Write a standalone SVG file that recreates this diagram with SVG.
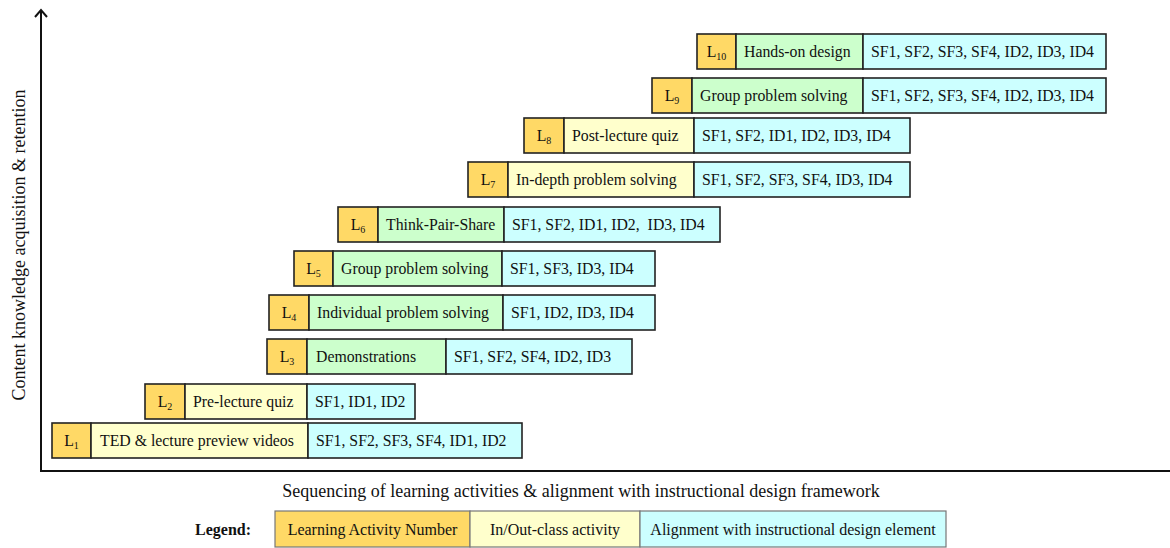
<svg xmlns="http://www.w3.org/2000/svg" width="1170" height="548" viewBox="0 0 1170 548">
<style>
text{font-family:"Liberation Serif","Times New Roman",serif;font-size:15.8px;fill:#111}
.b{stroke:#222;stroke-width:1.6}
.n{fill:#FFD966}
.g{fill:#CCFFCC}
.y{fill:#FFFFCC}
.c{fill:#CCFFFF}
.lb{stroke:#777;stroke-width:1.2}
.sub{font-size:10px}
.lg{font-size:16px}
.axl{font-size:18px}
.ax{stroke:#111;stroke-width:2;fill:none}
</style>
<rect width="1170" height="548" fill="#fff"/>
<g id="axes">
<line class="ax" x1="41" y1="10" x2="41" y2="471"/>
<line class="ax" x1="40" y1="471" x2="1170" y2="471"/>
<polyline class="ax" points="35,17 41,10 47,17"/>
</g>
<text class="axl" x="25" y="245" text-anchor="middle" transform="rotate(-90 25 245)">Content knowledge acquisition &amp; retention</text>
<text class="axl" x="581" y="497" text-anchor="middle">Sequencing of learning activities &amp; alignment with instructional design framework</text>

<g id="L1">
<rect class="b n" x="52" y="423" width="39" height="35"/>
<rect class="b y" x="91" y="423" width="217" height="35"/>
<rect class="b c" x="308" y="423" width="214" height="35"/>
<text x="71.5" y="446" text-anchor="middle">L<tspan class="sub" dy="3">1</tspan></text>
<text x="100" y="446">TED &amp; lecture preview videos</text>
<text x="316" y="446">SF1, SF2, SF3, SF4, ID1, ID2</text>
</g>
<g id="L2">
<rect class="b n" x="145" y="384" width="40" height="35"/>
<rect class="b y" x="185" y="384" width="122" height="35"/>
<rect class="b c" x="307" y="384" width="108" height="35"/>
<text x="165" y="407" text-anchor="middle">L<tspan class="sub" dy="3">2</tspan></text>
<text x="193" y="407">Pre-lecture quiz</text>
<text x="315" y="407">SF1, ID1, ID2</text>
</g>
<g id="L3">
<rect class="b n" x="267" y="339" width="40" height="35"/>
<rect class="b g" x="307" y="339" width="139" height="35"/>
<rect class="b c" x="446" y="339" width="186" height="35"/>
<text x="287" y="362" text-anchor="middle">L<tspan class="sub" dy="3">3</tspan></text>
<text x="316" y="362">Demonstrations</text>
<text x="454" y="362">SF1, SF2, SF4, ID2, ID3</text>
</g>
<g id="L4">
<rect class="b n" x="269" y="295" width="40" height="35"/>
<rect class="b g" x="309" y="295" width="194" height="35"/>
<rect class="b c" x="503" y="295" width="152" height="35"/>
<text x="289" y="318" text-anchor="middle">L<tspan class="sub" dy="3">4</tspan></text>
<text x="317" y="318">Individual problem solving</text>
<text x="511" y="318">SF1, ID2, ID3, ID4</text>
</g>
<g id="L5">
<rect class="b n" x="294" y="251" width="39" height="35"/>
<rect class="b g" x="333" y="251" width="169" height="35"/>
<rect class="b c" x="502" y="251" width="153" height="35"/>
<text x="313.5" y="274" text-anchor="middle">L<tspan class="sub" dy="3">5</tspan></text>
<text x="341" y="274">Group problem solving</text>
<text x="510" y="274">SF1, SF3, ID3, ID4</text>
</g>
<g id="L6">
<rect class="b n" x="338" y="207" width="40" height="35"/>
<rect class="b g" x="378" y="207" width="126" height="35"/>
<rect class="b c" x="504" y="207" width="216" height="35"/>
<text x="358" y="230" text-anchor="middle">L<tspan class="sub" dy="3">6</tspan></text>
<text x="386" y="230">Think-Pair-Share</text>
<text x="512" y="230" style="white-space:pre" xml:space="preserve">SF1, SF2, ID1, ID2,  ID3, ID4</text>
</g>
<g id="L7">
<rect class="b n" x="468" y="162" width="40" height="35"/>
<rect class="b y" x="508" y="162" width="186" height="35"/>
<rect class="b c" x="694" y="162" width="216" height="35"/>
<text x="488" y="185" text-anchor="middle">L<tspan class="sub" dy="3">7</tspan></text>
<text x="516" y="185">In-depth problem solving</text>
<text x="702" y="185">SF1, SF2, SF3, SF4, ID3, ID4</text>
</g>
<g id="L8">
<rect class="b n" x="524" y="118" width="40" height="35"/>
<rect class="b y" x="564" y="118" width="130" height="35"/>
<rect class="b c" x="694" y="118" width="216" height="35"/>
<text x="544" y="141" text-anchor="middle">L<tspan class="sub" dy="3">8</tspan></text>
<text x="572" y="141">Post-lecture quiz</text>
<text x="702" y="141">SF1, SF2, ID1, ID2, ID3, ID4</text>
</g>
<g id="L9">
<rect class="b n" x="652" y="78" width="40" height="35"/>
<rect class="b g" x="692" y="78" width="171" height="35"/>
<rect class="b c" x="863" y="78" width="243" height="35"/>
<text x="672" y="101" text-anchor="middle">L<tspan class="sub" dy="3">9</tspan></text>
<text x="700" y="101">Group problem solving</text>
<text x="871" y="101">SF1, SF2, SF3, SF4, ID2, ID3, ID4</text>
</g>
<g id="L10">
<rect class="b n" x="697" y="34" width="39" height="35"/>
<rect class="b g" x="736" y="34" width="127" height="35"/>
<rect class="b c" x="863" y="34" width="243" height="35"/>
<text x="716.5" y="57" text-anchor="middle">L<tspan class="sub" dy="3">10</tspan></text>
<text x="744" y="57">Hands-on design</text>
<text x="871" y="57">SF1, SF2, SF3, SF4, ID2, ID3, ID4</text>
</g>

<g id="legend">
<text x="195" y="535" class="lg" font-weight="bold">Legend:</text>
<rect class="lb n" x="275" y="511" width="195" height="36"/>
<rect class="lb y" x="470" y="511" width="170" height="36"/>
<rect class="lb c" x="640" y="511" width="306" height="36"/>
<text x="372.5" y="535" class="lg" text-anchor="middle">Learning Activity Number</text>
<text x="555" y="535" class="lg" text-anchor="middle">In/Out-class activity</text>
<text x="793" y="535" class="lg" text-anchor="middle">Alignment with instructional design element</text>
</g>
</svg>
